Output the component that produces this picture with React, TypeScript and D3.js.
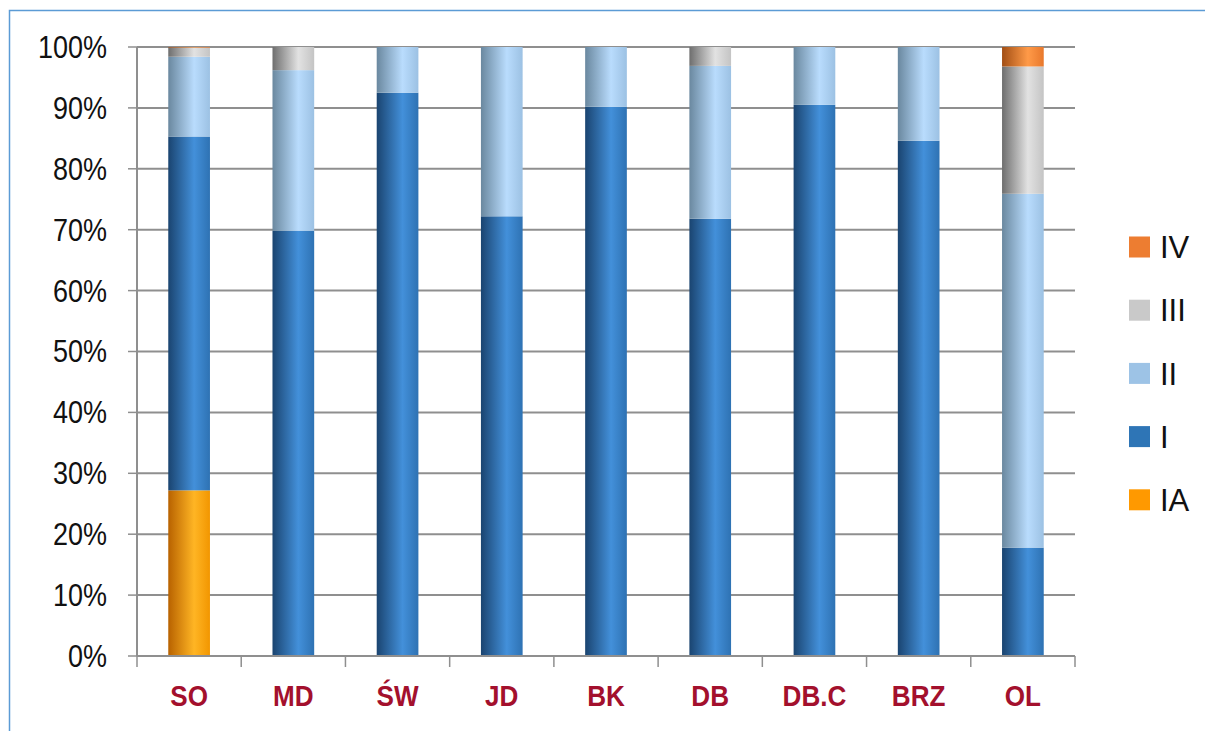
import React from "react";
import * as d3 from "d3";

const categories = ["SO", "MD", "ŚW", "JD", "BK", "DB", "DB.C", "BRZ", "OL"];
const seriesKeys = ["IA", "I", "II", "III", "IV"];
const valuesIA = [27.2, 0, 0, 0, 0, 0, 0, 0, 0];
const valuesI = [58.1, 69.8, 92.5, 72.2, 90.2, 71.8, 90.5, 84.6, 17.8];
const valuesII = [13.1, 26.4, 7.5, 27.8, 9.8, 25.1, 9.5, 15.4, 58.1];
const valuesIII = [1.5, 3.8, 0, 0, 0, 3.1, 0, 0, 20.9];
const valuesIV = [0.1, 0, 0, 0, 0, 0, 0, 0, 3.2];
const yTicks = [0, 10, 20, 30, 40, 50, 60, 70, 80, 90, 100];
const legendOrder = ["IV", "III", "II", "I", "IA"];

const swatch: Record<string, string> = {
  IA: "#FF9900",
  I: "#2E75B6",
  II: "#9DC3E6",
  III: "#C9C9C9",
  IV: "#ED7D31",
};
const grad: Record<string, [string, string, string]> = {
  IA: ["#B86200", "#FFB524", "#F29600"],
  I: ["#1A4470", "#4390DA", "#2E72B3"],
  II: ["#6A889F", "#B9DCFD", "#9CC1E3"],
  III: ["#6E6E6E", "#E2E2E2", "#C4C4C4"],
  IV: ["#A24E14", "#FF9A48", "#E8782C"],
};

export default function App() {
  const W = 1205, H = 731;
  const x0 = 137, x1 = 1075, yTop = 47, yBot = 656;
  const x = d3.scaleBand<string>().domain(categories).range([x0, x1]).paddingInner(0.6).paddingOuter(0.3);
  const y = d3.scaleLinear().domain([0, 100]).range([yBot, yTop]);
  const step = x.step();

  const rows = categories.map((c, i) => ({
    cat: c,
    IA: valuesIA[i],
    I: valuesI[i],
    II: valuesII[i],
    III: valuesIII[i],
    IV: valuesIV[i],
  }));
  const stacked = d3.stack<any>().keys(seriesKeys)(rows);
  const fontAxis = "'Liberation Sans', Arial, sans-serif";

  return (
    <svg width={W} height={H} style={{ position: "absolute", left: 0, top: 0, background: "#fff" }}>
      <defs>
        {seriesKeys.map((k) => (
          <linearGradient key={k} id={`g-${k}`} x1="0" x2="1" y1="0" y2="0">
            <stop offset="0" stopColor={grad[k][0]} />
            <stop offset="0.62" stopColor={grad[k][1]} />
            <stop offset="1" stopColor={grad[k][2]} />
          </linearGradient>
        ))}
      </defs>
      <rect x={9.5} y={10.5} width={1400} height={900} fill="none" stroke="#5B9BD5" strokeWidth={1.5} />
      {yTicks.map((t) => (
        <line key={t} x1={x0} x2={x1} y1={y(t)} y2={y(t)} stroke="#8F8F8F" strokeWidth={2} />
      ))}
      <line x1={x0} x2={x0} y1={yTop} y2={yBot} stroke="#8F8F8F" strokeWidth={2} />
      {yTicks.map((t) => (
        <line key={"yt" + t} x1={x0 - 9} x2={x0} y1={y(t)} y2={y(t)} stroke="#8F8F8F" strokeWidth={1.5} />
      ))}
      {yTicks.map((t) => (
        <text
          key={"yl" + t}
          transform={`translate(107,${y(t)}) scale(0.885,1)`}
          dy="0.36em"
          textAnchor="end"
          fontFamily={fontAxis}
          fontSize={30.5}
          fill="#111"
        >
          {t}%
        </text>
      ))}
      {stacked.map((s) => (
        <g key={s.key}>
          {s.map((d: any, i: number) => {
            const h = y(d[0]) - y(d[1]);
            if (h <= 0) return null;
            return (
              <rect
                key={i}
                x={x(categories[i])}
                y={y(d[1])}
                width={x.bandwidth()}
                height={h}
                fill={`url(#g-${s.key})`}
              />
            );
          })}
        </g>
      ))}
      <line x1={x0} x2={x1} y1={yBot} y2={yBot} stroke="#8F8F8F" strokeWidth={2} />
      {d3.range(categories.length + 1).map((i) => (
        <line key={"xt" + i} x1={x0 + i * step} x2={x0 + i * step} y1={yBot} y2={yBot + 11} stroke="#8F8F8F" strokeWidth={1.5} />
      ))}
      {categories.map((c) => (
        <text
          key={"xl" + c}
          transform={`translate(${(x(c) as number) + x.bandwidth() / 2},695.5) scale(0.9,1)`}
          dy="0.36em"
          textAnchor="middle"
          fontFamily={fontAxis}
          fontWeight="bold"
          fontSize={29}
          fill="#A3102D"
        >
          {c}
        </text>
      ))}
      {legendOrder.map((k, i) => {
        const cy = 247 + i * 63.2;
        return (
          <g key={"lg" + k}>
            <rect x={1129} y={cy - 10.5} width={21} height={21} fill={swatch[k]} />
            <text x={1160} y={cy} dy="0.36em" fontFamily={fontAxis} fontSize={31} fill="#111">
              {k}
            </text>
          </g>
        );
      })}
    </svg>
  );
}
